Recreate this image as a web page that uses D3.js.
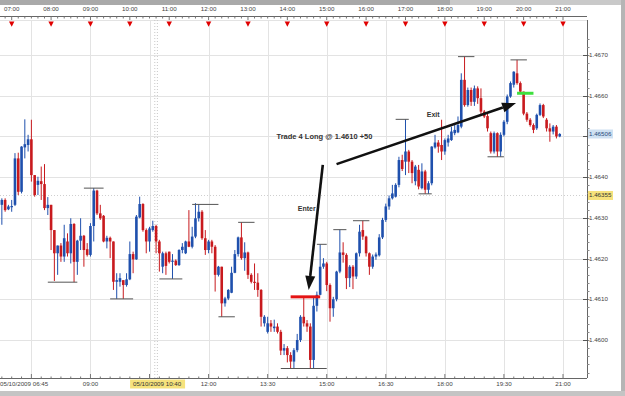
<!DOCTYPE html>
<html>
<head>
<meta charset="utf-8">
<script src="https://cdnjs.cloudflare.com/ajax/libs/d3/7.8.5/d3.min.js"></script>
<style>
  body { margin: 0; background: #fff; }
  svg { display: block; font-family: 'Liberation Sans', Arial, sans-serif; }
</style>
</head>
<body>
<svg class="chart"></svg>
<script>
// 5 minute EUR bars, first bar at 06:45
var startTime = '06:45';
var barMinutes = 5;

var opens = [
  1.46332, 1.46344, 1.46321, 1.46327, 1.46332, 1.46446, 1.46364, 1.46473, 1.46479, 1.46493,
  1.46405, 1.46381, 1.46390, 1.46383, 1.46324, 1.46332, 1.46270, 1.46213, 1.46232, 1.46205,
  1.46242, 1.46213, 1.46285, 1.46192, 1.46244, 1.46256, 1.46223, 1.46209, 1.46280, 1.46367,
  1.46311, 1.46305, 1.46242, 1.46251, 1.46242, 1.46143, 1.46143, 1.46147, 1.46135, 1.46149,
  1.46211, 1.46198, 1.46301, 1.46334, 1.46270, 1.46242, 1.46270, 1.46280, 1.46242, 1.46180,
  1.46213, 1.46217, 1.46192, 1.46195, 1.46184, 1.46221, 1.46213, 1.46242, 1.46229, 1.46254,
  1.46299, 1.46315, 1.46250, 1.46221, 1.46242, 1.46229, 1.46160, 1.46180, 1.46090, 1.46102,
  1.46116, 1.46165, 1.46211, 1.46252, 1.46201, 1.46215, 1.46160, 1.46143, 1.46141, 1.46123,
  1.46041, 1.46020, 1.46041, 1.46029, 1.46033, 1.46020, 1.45974, 1.45980, 1.45963, 1.45947,
  1.45975, 1.46000, 1.46057, 1.46041, 1.46033, 1.45951, 1.46084, 1.46111, 1.46180, 1.46188,
  1.46135, 1.46078, 1.46100, 1.46168, 1.46215, 1.46209, 1.46152, 1.46180, 1.46156, 1.46213,
  1.46270, 1.46254, 1.46213, 1.46180, 1.46205, 1.46208, 1.46252, 1.46295, 1.46328, 1.46348,
  1.46352, 1.46381, 1.46442, 1.46438, 1.46463, 1.46438, 1.46390, 1.46418, 1.46373, 1.46414,
  1.46369, 1.46385, 1.46473, 1.46485, 1.46479, 1.46463, 1.46485, 1.46491, 1.46508, 1.46510,
  1.46524, 1.46639, 1.46577, 1.46614, 1.46585, 1.46618, 1.46594, 1.46561, 1.46550, 1.46508,
  1.46463, 1.46508, 1.46463, 1.46504, 1.46536, 1.46598, 1.46627, 1.46655, 1.46631, 1.46610,
  1.46556, 1.46541, 1.46528, 1.46520, 1.46553, 1.46577, 1.46541, 1.46520, 1.46512, 1.46524,
  1.46500
];
var highs = [
  1.46348, 1.46348, 1.46332, 1.46344, 1.46459, 1.46460, 1.46476, 1.46542, 1.46504, 1.46541,
  1.46405, 1.46401, 1.46426, 1.46432, 1.46351, 1.46332, 1.46270, 1.46232, 1.46238, 1.46283,
  1.46262, 1.46299, 1.46287, 1.46246, 1.46299, 1.46258, 1.46238, 1.46287, 1.46373, 1.46369,
  1.46332, 1.46307, 1.46256, 1.46254, 1.46242, 1.46164, 1.46164, 1.46147, 1.46164, 1.46242,
  1.46217, 1.46307, 1.46352, 1.46336, 1.46274, 1.46278, 1.46293, 1.46283, 1.46246, 1.46217,
  1.46217, 1.46217, 1.46211, 1.46198, 1.46223, 1.46238, 1.46244, 1.46319, 1.46278, 1.46336,
  1.46333, 1.46319, 1.46270, 1.46246, 1.46246, 1.46233, 1.46182, 1.46180, 1.46106, 1.46125,
  1.46180, 1.46221, 1.46254, 1.46289, 1.46240, 1.46217, 1.46164, 1.46188, 1.46164, 1.46125,
  1.46061, 1.46057, 1.46049, 1.46050, 1.46041, 1.46025, 1.45990, 1.45985, 1.45970, 1.45980,
  1.46015, 1.46061, 1.46106, 1.46049, 1.46041, 1.46106, 1.46119, 1.46235, 1.46201, 1.46192,
  1.46139, 1.46106, 1.46170, 1.46271, 1.46240, 1.46213, 1.46184, 1.46184, 1.46215, 1.46283,
  1.46293, 1.46256, 1.46215, 1.46210, 1.46215, 1.46260, 1.46300, 1.46335, 1.46355, 1.46381,
  1.46385, 1.46450, 1.46455, 1.46542, 1.46467, 1.46442, 1.46430, 1.46430, 1.46434, 1.46418,
  1.46390, 1.46476, 1.46504, 1.46491, 1.46541, 1.46495, 1.46504, 1.46524, 1.46528, 1.46549,
  1.46655, 1.46696, 1.46620, 1.46620, 1.46625, 1.46623, 1.46618, 1.46565, 1.46556, 1.46512,
  1.46512, 1.46510, 1.46510, 1.46540, 1.46603, 1.46635, 1.46660, 1.46688, 1.46635, 1.46610,
  1.46560, 1.46545, 1.46532, 1.46556, 1.46581, 1.46580, 1.46545, 1.46532, 1.46528, 1.46528,
  1.46508
];
var lows = [
  1.46283, 1.46315, 1.46319, 1.46315, 1.46329, 1.46356, 1.46360, 1.46446, 1.46463, 1.46389,
  1.46352, 1.46356, 1.46344, 1.46319, 1.46307, 1.46221, 1.46145, 1.46160, 1.46192, 1.46192,
  1.46205, 1.46188, 1.46142, 1.46160, 1.46221, 1.46180, 1.46205, 1.46205, 1.46242, 1.46307,
  1.46295, 1.46240, 1.46225, 1.46201, 1.46123, 1.46101, 1.46131, 1.46101, 1.46131, 1.46147,
  1.46164, 1.46197, 1.46299, 1.46266, 1.46213, 1.46217, 1.46266, 1.46213, 1.46168, 1.46164,
  1.46160, 1.46188, 1.46150, 1.46182, 1.46182, 1.46213, 1.46211, 1.46228, 1.46225, 1.46250,
  1.46291, 1.46246, 1.46209, 1.46213, 1.46213, 1.46119, 1.46156, 1.46057, 1.46082, 1.46098,
  1.46115, 1.46164, 1.46205, 1.46197, 1.46170, 1.46150, 1.46139, 1.46123, 1.46106, 1.46033,
  1.46033, 1.46016, 1.46020, 1.46020, 1.46016, 1.45963, 1.45963, 1.45945, 1.45930, 1.45930,
  1.45970, 1.45995, 1.46033, 1.46020, 1.45930, 1.45930, 1.46070, 1.46110, 1.46175, 1.46120,
  1.46045, 1.46057, 1.46095, 1.46164, 1.46190, 1.46125, 1.46130, 1.46125, 1.46150, 1.46205,
  1.46246, 1.46205, 1.46160, 1.46175, 1.46197, 1.46205, 1.46248, 1.46290, 1.46320, 1.46345,
  1.46350, 1.46375, 1.46415, 1.46405, 1.46410, 1.46385, 1.46380, 1.46370, 1.46370, 1.46359,
  1.46359, 1.46380, 1.46470, 1.46460, 1.46442, 1.46455, 1.46475, 1.46489, 1.46503, 1.46508,
  1.46520, 1.46573, 1.46573, 1.46575, 1.46575, 1.46580, 1.46555, 1.46545, 1.46512, 1.46458,
  1.46458, 1.46450, 1.46450, 1.46500, 1.46530, 1.46595, 1.46620, 1.46627, 1.46605, 1.46552,
  1.46536, 1.46524, 1.46508, 1.46516, 1.46550, 1.46545, 1.46512, 1.46487, 1.46505, 1.46495,
  1.46498
];
var closes = [
  1.46344, 1.46319, 1.46328, 1.46329, 1.46446, 1.46364, 1.46475, 1.46481, 1.46493, 1.46405,
  1.46356, 1.46391, 1.46383, 1.46324, 1.46332, 1.46270, 1.46213, 1.46232, 1.46205, 1.46250,
  1.46213, 1.46285, 1.46192, 1.46244, 1.46256, 1.46221, 1.46209, 1.46280, 1.46367, 1.46311,
  1.46299, 1.46242, 1.46251, 1.46242, 1.46143, 1.46147, 1.46152, 1.46135, 1.46149, 1.46211,
  1.46198, 1.46303, 1.46334, 1.46270, 1.46242, 1.46274, 1.46280, 1.46242, 1.46213, 1.46213,
  1.46182, 1.46192, 1.46195, 1.46184, 1.46221, 1.46229, 1.46242, 1.46229, 1.46254, 1.46299,
  1.46315, 1.46250, 1.46221, 1.46242, 1.46229, 1.46160, 1.46180, 1.46090, 1.46102, 1.46123,
  1.46165, 1.46211, 1.46252, 1.46201, 1.46215, 1.46160, 1.46143, 1.46141, 1.46123, 1.46057,
  1.46057, 1.46041, 1.46033, 1.46033, 1.46020, 1.45974, 1.45980, 1.45963, 1.45947, 1.45975,
  1.46000, 1.46057, 1.46041, 1.46033, 1.45951, 1.46084, 1.46111, 1.46180, 1.46188, 1.46135,
  1.46078, 1.46100, 1.46168, 1.46215, 1.46209, 1.46152, 1.46180, 1.46156, 1.46213, 1.46266,
  1.46254, 1.46213, 1.46180, 1.46205, 1.46210, 1.46252, 1.46295, 1.46328, 1.46348, 1.46360,
  1.46381, 1.46442, 1.46420, 1.46463, 1.46438, 1.46410, 1.46426, 1.46377, 1.46414, 1.46369,
  1.46385, 1.46475, 1.46485, 1.46475, 1.46463, 1.46491, 1.46495, 1.46512, 1.46516, 1.46528,
  1.46639, 1.46577, 1.46614, 1.46585, 1.46618, 1.46594, 1.46561, 1.46549, 1.46520, 1.46463,
  1.46508, 1.46463, 1.46504, 1.46536, 1.46598, 1.46631, 1.46659, 1.46631, 1.46610, 1.46556,
  1.46541, 1.46528, 1.46516, 1.46553, 1.46577, 1.46549, 1.46520, 1.46512, 1.46524, 1.46500,
  1.46506
];

var priceTicks = [1.4600, 1.4610, 1.4620, 1.4630, 1.4640, 1.4650, 1.4660, 1.4670];
var topTicks = ['07:00', '08:00', '09:00', '10:00', '11:00', '12:00', '13:00', '14:00',
                '15:00', '16:00', '17:00', '18:00', '19:00', '20:00', '21:00'];
var bottomTicks = ['09:00', '12:00', '13:30', '15:00', '16:30', '18:00', '19:30', '21:00'];
var gridTimes = ['07:30', '09:00', '10:30', '12:00', '13:30', '15:00', '16:30', '18:00', '19:30', '21:00'];

// swing marks: [first bar, last bar, price]
var swingMarks = [
  [25, 31, 1.46373], [14, 23, 1.46142], [33, 40, 1.46101], [48, 55, 1.46150],
  [58, 66, 1.46333], [66, 71, 1.46057], [72, 77, 1.46289], [85, 99, 1.45930],
  [96, 99, 1.46235], [101, 105, 1.46271], [107, 112, 1.46293], [120, 124, 1.46542],
  [127, 131, 1.46359], [139, 144, 1.46696], [148, 153, 1.46450], [155, 160, 1.46688]
];
var entryLine = [88, 97, 1.46106];
var exitLine = [157, 162, 1.46606];
var lastPrice = 1.46506;
var cursorPrice = 1.46355;
var cursorTime = '10:40';
var firstLabel = '05/10/2009 06:45';
var cursorLabel = '05/10/2009 10:40';
var tradeText = 'Trade 4 Long @ 1.4610 +50';

function show() {
    'use strict';

    var width = 625, height = 396;
    var plotRight = 587, plotTop = 20, plotBottom = 378;

    var svg = d3.select('.chart')
        .attr('width', width)
        .attr('height', height);

    function day(hm) {
        var p = hm.split(':');
        return new Date(2009, 9, 5, +p[0], +p[1]);
    }
    function barTime(i) {
        return new Date(day(startTime).getTime() + i * barMinutes * 60000);
    }

    var x = d3.scaleTime()
        .domain([day('07:00'), day('21:00')])
        .range([11.7, 563]);
    var y = d3.scaleLinear()
        .domain([1.4600, 1.4670])
        .range([340, 55]);

    // window chrome
    svg.append('rect').attr('width', width).attr('height', height).attr('fill', '#fff');
    svg.append('rect').attr('x', 0).attr('y', 0).attr('width', 450).attr('height', 5).attr('fill', '#a9a9a9');
    svg.append('rect').attr('x', 450).attr('y', 0).attr('width', 175).attr('height', 5).attr('fill', '#c9c9c9');
    svg.append('rect').attr('x', 621).attr('y', 0).attr('width', 4).attr('height', height).attr('fill', '#b5b5b5');
    svg.append('rect').attr('x', 0).attr('y', 391).attr('width', width).attr('height', 5).attr('fill', '#c4c4c4');

    // grid
    var grid = svg.append('g').attr('stroke', '#e3e3e3').attr('stroke-width', 1);
    grid.selectAll('.vg').data(gridTimes).enter().append('line')
        .attr('x1', function (d) { return Math.round(x(day(d))) + 0.5; })
        .attr('x2', function (d) { return Math.round(x(day(d))) + 0.5; })
        .attr('y1', plotTop).attr('y2', plotBottom);
    grid.selectAll('.hg').data(priceTicks).enter().append('line')
        .attr('x1', 0).attr('x2', plotRight)
        .attr('y1', function (d) { return Math.round(y(d)) + 0.5; })
        .attr('y2', function (d) { return Math.round(y(d)) + 0.5; });
    svg.append('line').attr('x1', 0).attr('x2', plotRight)
        .attr('y1', plotTop + 0.5).attr('y2', plotTop + 0.5).attr('stroke', '#e3e3e3');

    // cursor crosshair
    var cx0 = x(day(cursorTime));
    [-1.3, 1.3].forEach(function (o) {
        svg.append('line')
            .attr('x1', cx0 + o).attr('x2', cx0 + o)
            .attr('y1', plotTop).attr('y2', plotBottom)
            .attr('stroke', '#c8c8c8').attr('stroke-dasharray', '1,2');
    });
    svg.append('line')
        .attr('x1', 0).attr('x2', plotRight)
        .attr('y1', Math.round(y(cursorPrice)) + 0.5).attr('y2', Math.round(y(cursorPrice)) + 0.5)
        .attr('stroke', '#cfcfcf').attr('stroke-dasharray', '1,2');

    // top ruler
    var top = svg.append('g');
    top.append('line').attr('x1', 0).attr('x2', plotRight).attr('y1', 16.5).attr('y2', 16.5).attr('stroke', '#666');
    top.selectAll('.mt').data(d3.timeMinute.every(10).range(barTime(0), day('21:10'))).enter().append('line')
        .attr('x1', function (d) { return x(d); }).attr('x2', function (d) { return x(d); })
        .attr('y1', 16.5).attr('y2', function (d) { return d.getMinutes() === 0 ? 20 : 18.5; })
        .attr('stroke', '#777');
    top.selectAll('.tl').data(topTicks).enter().append('text')
        .attr('x', function (d) { return x(day(d)); }).attr('y', 11)
        .attr('text-anchor', 'middle').attr('font-size', 6.2).attr('fill', '#444')
        .text(function (d) { return d; });
    top.selectAll('.tri').data(topTicks).enter().append('path')
        .attr('d', function (d) {
            var px = x(day(d));
            return 'M' + (px - 2.7) + ',21.5L' + (px + 2.7) + ',21.5L' + px + ',26.8Z';
        })
        .attr('fill', '#e00000');

    // bottom ruler
    var bottom = svg.append('g');
    bottom.append('line').attr('x1', 0).attr('x2', plotRight).attr('y1', plotBottom + 0.5).attr('y2', plotBottom + 0.5).attr('stroke', '#666');
    bottom.selectAll('.bt').data(d3.timeMinute.every(15).range(barTime(0), day('21:10'))).enter().append('line')
        .attr('x1', function (d) { return x(d); }).attr('x2', function (d) { return x(d); })
        .attr('y1', plotBottom + 0.5)
        .attr('y2', function (d) { return (d.getHours() * 60 + d.getMinutes()) % 90 === 0 ? plotBottom - 4 : plotBottom - 1.5; })
        .attr('stroke', '#777');
    bottom.selectAll('.bl').data(bottomTicks).enter().append('text')
        .attr('x', function (d) { return x(day(d)); }).attr('y', 386)
        .attr('text-anchor', 'middle').attr('font-size', 6.2).attr('fill', '#444')
        .text(function (d) { return d; });
    bottom.append('text').attr('x', 0).attr('y', 386).attr('font-size', 6.2).attr('fill', '#444').text(firstLabel);
    bottom.append('rect').attr('x', cx0 - 26).attr('y', 379.5).attr('width', 55).attr('height', 9).attr('fill', '#f6e27c');
    bottom.append('text').attr('x', cx0 + 1).attr('y', 386).attr('text-anchor', 'middle')
        .attr('font-size', 6.2).attr('fill', '#333').text(cursorLabel);

    // right price axis
    var right = svg.append('g');
    right.append('line').attr('x1', plotRight + 0.5).attr('x2', plotRight + 0.5)
        .attr('y1', plotTop).attr('y2', plotBottom).attr('stroke', '#666');
    right.selectAll('.mn').data(d3.range(1.4592, 1.46745, 0.0002)).enter().append('line')
        .attr('x1', plotRight).attr('x2', plotRight + 2.5)
        .attr('y1', function (d) { return Math.round(y(d)) + 0.5; })
        .attr('y2', function (d) { return Math.round(y(d)) + 0.5; })
        .attr('stroke', '#888');
    right.selectAll('.mj').data(priceTicks).enter().append('line')
        .attr('x1', plotRight - 4).attr('x2', plotRight + 1)
        .attr('y1', function (d) { return Math.round(y(d)) + 0.5; })
        .attr('y2', function (d) { return Math.round(y(d)) + 0.5; })
        .attr('stroke', '#555');
    // the 1.4650 label sits under the last price box
    right.selectAll('.pl').data(priceTicks.filter(function (d) { return Math.abs(y(d) - y(lastPrice)) > 6; }))
        .enter().append('text')
        .attr('x', plotRight + 2).attr('y', function (d) { return y(d) + 2; })
        .attr('font-size', 6.2).attr('fill', '#444')
        .text(function (d) { return d3.format('.4f')(d); });
    right.append('rect').attr('x', plotRight + 1).attr('y', y(lastPrice) - 4.5).attr('width', 25).attr('height', 9).attr('fill', '#cfe1f2');
    right.append('text').attr('x', plotRight + 2).attr('y', y(lastPrice) + 2)
        .attr('font-size', 6.2).attr('fill', '#2a4b7a').text(d3.format('.5f')(lastPrice));
    right.append('rect').attr('x', plotRight + 1).attr('y', y(cursorPrice) - 4.5).attr('width', 25).attr('height', 9).attr('fill', '#f6e27c');
    right.append('text').attr('x', plotRight + 2).attr('y', y(cursorPrice) + 2)
        .attr('font-size', 6.2).attr('fill', '#333').text(d3.format('.5f')(cursorPrice));

    // candles
    var bars = d3.range(opens.length).map(function (i) {
        return { t: barTime(i), o: opens[i], h: highs[i], l: lows[i], c: closes[i] };
    });
    var candles = svg.append('g').selectAll('g').data(bars).enter().append('g')
        .attr('class', function (d) { return d.c >= d.o ? 'up' : 'down'; });
    function col(d) { return d.c >= d.o ? '#1f50ad' : '#c81a1e'; }
    candles.append('line')
        .attr('x1', function (d) { return x(d.t); }).attr('x2', function (d) { return x(d.t); })
        .attr('y1', function (d) { return y(Math.max(d.h, d.o, d.c)); })
        .attr('y2', function (d) { return y(Math.min(d.l, d.o, d.c)); })
        .attr('stroke', col).attr('stroke-width', 1);
    candles.append('rect')
        .attr('x', function (d) { return x(d.t) - 1.3; })
        .attr('width', 2.6)
        .attr('y', function (d) { return y(Math.max(d.o, d.c)); })
        .attr('height', function (d) { return Math.max(1.2, Math.abs(y(d.o) - y(d.c))); })
        .attr('fill', col);

    // swing high / low marks
    svg.append('g').selectAll('line').data(swingMarks).enter().append('line')
        .attr('x1', function (d) { return x(barTime(d[0])); })
        .attr('x2', function (d) { return x(barTime(d[1])); })
        .attr('y1', function (d) { return y(d[2]); })
        .attr('y2', function (d) { return y(d[2]); })
        .attr('stroke', '#555').attr('stroke-width', 1);

    // entry / exit levels
    svg.append('line')
        .attr('x1', x(barTime(entryLine[0]))).attr('x2', x(barTime(entryLine[1])))
        .attr('y1', y(entryLine[2])).attr('y2', y(entryLine[2]))
        .attr('stroke', '#e41414').attr('stroke-width', 3);
    svg.append('line')
        .attr('x1', x(barTime(exitLine[0]))).attr('x2', x(barTime(exitLine[1])))
        .attr('y1', y(exitLine[2])).attr('y2', y(exitLine[2]))
        .attr('stroke', '#3ee03e').attr('stroke-width', 3);

    // arrows
    function arrow(x1, y1, x2, y2) {
        var a = Math.atan2(y2 - y1, x2 - x1), len = 14, w = 5;
        var bx = x2 - len * Math.cos(a), by = y2 - len * Math.sin(a);
        svg.append('line').attr('x1', x1).attr('y1', y1).attr('x2', bx).attr('y2', by)
            .attr('stroke', '#111').attr('stroke-width', 2.6);
        svg.append('path')
            .attr('d', 'M' + x2 + ',' + y2 +
                'L' + (bx + w * Math.sin(a)) + ',' + (by - w * Math.cos(a)) +
                'L' + (bx - w * Math.sin(a)) + ',' + (by + w * Math.cos(a)) + 'Z')
            .attr('fill', '#111');
    }
    arrow(x(barTime(97.8)), y(1.46430), x(barTime(93.5)), y(1.46123));
    arrow(x(barTime(102)), y(1.46432), x(barTime(156.7)), y(1.46582));

    // annotations
    var note = svg.append('g').attr('font-weight', 'bold').attr('fill', '#333');
    note.append('text').attr('x', x(barTime(83.7))).attr('y', y(1.46493)).attr('font-size', 7.5).text(tradeText);
    note.append('text').attr('x', x(barTime(90.2))).attr('y', y(1.46317)).attr('font-size', 7).text('Enter');
    note.append('text').attr('x', x(barTime(129.5))).attr('y', y(1.46547)).attr('font-size', 7).text('Exit');
}

show();
</script>
</body>
</html>
